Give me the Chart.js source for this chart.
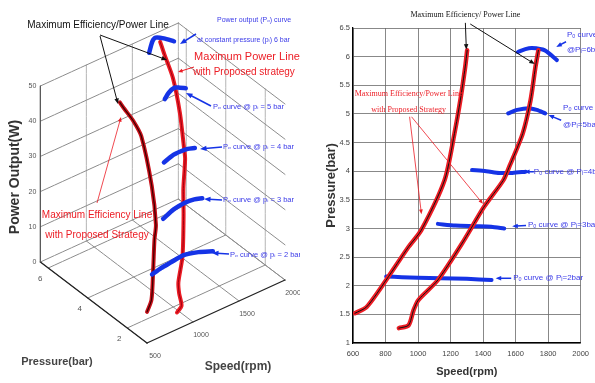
<!DOCTYPE html>
<html>
<head>
<meta charset="utf-8">
<script src="https://cdn.jsdelivr.net/npm/chart.js@4.4.1/dist/chart.umd.min.js"></script>
<style>
  html, body { margin: 0; padding: 0; background: #fff; }
  #wrap { position: relative; width: 595px; height: 383px; }
  #left-box { position: absolute; left: 0; top: 0; width: 300px; height: 383px; }
  #right-box { position: absolute; left: 300px; top: 0; width: 295px; height: 383px; }
</style>
</head>
<body>
<div id="wrap">
  <div id="left-box"><canvas id="left"></canvas></div>
  <div id="right-box"><canvas id="right"></canvas></div>
</div>
<script>
// ---- data (speed rpm, pressure bar, power W) ----
const speedTicks = [600, 800, 1000, 1200, 1400, 1600, 1800, 2000];
const pressureTicks = [1, 1.5, 2, 2.5, 3, 3.5, 4, 4.5, 5, 5.5, 6, 6.5];
const speedTicks3d = [500, 1000, 1500, 2000];
const pressureTicks3d = [2, 4, 6];
const powerTicks3d = [0, 10, 20, 30, 40, 50];

// maximum efficiency line
const effSpeed = [612, 684, 804, 942, 1020, 1164, 1224, 1260, 1290, 1302];
const effPressure = [1.52, 1.63, 2.1, 2.68, 2.97, 3.85, 4.66, 5.24, 5.82, 6.11];
const effPower = [5.3, 7.4, 13, 17, 19, 24.5, 34.5, 36, 36.5, 37];

// maximum power line
const mpSpeed = [882, 942, 972, 1002, 1122, 1284, 1404, 1524, 1560, 1644, 1692, 1722, 1740];
const mpPressure = [1.26, 1.31, 1.57, 1.75, 2.1, 2.8, 3.37, 3.84, 4.07, 4.66, 5.24, 5.82, 6.11];
const mpPower = [3, 4, 6, 8, 12.5, 19, 23, 28, 30, 36, 43, 47, 49];

// power output curves at constant pressure
const po2Speed = [804, 900, 1000, 1140, 1300, 1452];
const po2Pressure = [2.16, 2.15, 2.14, 2.13, 2.12, 2.1];
const po2Power = [10.9, 11.6, 12, 12.5, 11.5, 10];

const po3Speed = [1122, 1230, 1350, 1450, 1530];
const po3Pressure = [3.08, 3.05, 3.04, 3.03, 3.0];
const po3Power = [19, 20.5, 21, 20.8, 20.3];

const po4Speed = [1332, 1420, 1500, 1580, 1662];
const po4Pressure = [4.02, 4.0, 3.97, 3.97, 3.99];
const po4Power = [28.5, 29.5, 29.8, 29.6, 28.8];

const po5Speed = [1554, 1610, 1680, 1730, 1782];
const po5Pressure = [5.01, 5.07, 5.1, 5.07, 5.01];
const po5Power = [39.6, 40.5, 41, 40.5, 40];

const po6Speed = [1614, 1660, 1700, 1780, 1854];
const po6Pressure = [6.08, 6.13, 6.15, 6.11, 5.94];
const po6Power = [47.5, 50, 50.5, 49.5, 48.5];

// ---- styling ----
const RED = '#ec1c24';
const BLUE = '#1533e6';
const BLUE_TXT = '#3a3ae8';
const NARROW = '"Liberation Sans Narrow", "Liberation Sans", "DejaVu Sans"';
const SERIF = '"Liberation Serif", "DejaVu Serif"';

Chart.defaults.font.family = NARROW;

// 3d view of the left panel
const sMin = 500, sMax = 2000, pMin = 1, pMax = 6.4, wMax = 50;
function proj(s, p, w) {
  return {
    x: 147 + (s - sMin) * 0.092 - (p - pMin) * 19.75,
    y: 343 - (s - sMin) * 0.042 - (p - pMin) * 15 - w * 3.52
  };
}

function line(data, color, width, order) {
  return { data, borderColor: color, backgroundColor: color, borderWidth: width,
    showLine: true, pointRadius: 0, tension: 0.25, order, borderCapStyle: 'round', borderJoinStyle: 'round' };
}

function arrow(ctx, x1, y1, x2, y2, color, width, head) {
  const a = Math.atan2(y2 - y1, x2 - x1);
  ctx.strokeStyle = color; ctx.fillStyle = color; ctx.lineWidth = width;
  ctx.beginPath();
  ctx.moveTo(x1, y1);
  ctx.lineTo(x2 - Math.cos(a) * head * 0.7, y2 - Math.sin(a) * head * 0.7);
  ctx.stroke();
  ctx.beginPath();
  ctx.moveTo(x2, y2);
  ctx.lineTo(x2 - head * Math.cos(a - 0.38), y2 - head * Math.sin(a - 0.38));
  ctx.lineTo(x2 - head * Math.cos(a + 0.38), y2 - head * Math.sin(a + 0.38));
  ctx.closePath();
  ctx.fill();
}

function makeNotes(spec) {
  return {
    id: 'notes',
    afterDatasetsDraw(chart) {
      const { ctx, scales: { x, y } } = chart;
      const X = v => x.getPixelForValue(v), Y = v => y.getPixelForValue(v);
      ctx.save();
      for (const a of spec.arrows) {
        arrow(ctx, X(a.from[0]), Y(a.from[1]), X(a.to[0]), Y(a.to[1]), a.color, a.width || 1, a.head || 6);
      }
      for (const t of spec.texts) {
        ctx.save();
        ctx.font = t.font;
        ctx.fillStyle = t.color;
        ctx.textAlign = t.align || 'left';
        ctx.textBaseline = 'middle';
        ctx.translate(X(t.at[0]), Y(t.at[1]));
        if (t.rot) ctx.rotate(t.rot);
        ctx.fillText(t.text, 0, 0);
        ctx.restore();
      }
      ctx.restore();
    }
  };
}

// ---- left panel (3d view) ----
const leftSets = [];
const GRID = '#8c8c8c';
for (const w of powerTicks3d) {
  leftSets.push(line([proj(sMin, pMax, w), proj(sMax, pMax, w)], GRID, 1, 20));
  leftSets.push(line([proj(sMax, pMax, w), proj(sMax, pMin, w)], GRID, 1, 20));
}
for (const s of speedTicks3d) {
  leftSets.push(line([proj(s, pMax, 0), proj(s, pMax, wMax)], '#b4b4b4', 1, 20));
  leftSets.push(line([proj(s, pMin, 0), proj(s, pMax, 0)], GRID, 1, 20));
}
for (const p of pressureTicks3d) {
  leftSets.push(line([proj(sMax, p, 0), proj(sMax, p, wMax)], '#b4b4b4', 1, 20));
  leftSets.push(line([proj(sMin, p, 0), proj(sMax, p, 0)], GRID, 1, 20));
}
// axis lines
leftSets.push(line([proj(sMin, pMax, 0), proj(sMin, pMax, wMax)], '#555', 1.2, 15));
leftSets.push(line([proj(sMin, pMin, 0), proj(sMin, pMax, 0)], '#222', 1.3, 15));
leftSets.push(line([proj(sMin, pMin, 0), proj(sMax, pMin, 0)], '#222', 1.3, 15));

const line3d = (ss, ps, ws) => ss.map((s, i) => proj(s, ps[i], ws[i]));
leftSets.push(line(line3d(effSpeed, effPressure, effPower), '#c8101a', 4, 6));
leftSets.push(line(line3d(effSpeed, effPressure, effPower), '#3a0000', 1.2, 5));
leftSets.push(line(line3d(mpSpeed, mpPressure, mpPower), RED, 4, 6));
leftSets.push(line(line3d(mpSpeed, mpPressure, mpPower), '#a00010', 1, 5));
for (const c of [[po2Speed, po2Pressure, po2Power], [po3Speed, po3Pressure, po3Power],
                 [po4Speed, po4Pressure, po4Power], [po5Speed, po5Pressure, po5Power],
                 [po6Speed, po6Pressure, po6Power]]) {
  leftSets.push(line(line3d(c[0], c[1], c[2]), BLUE, 4.5, 1));
}

const leftTexts = [];
for (const w of powerTicks3d) {
  const q = proj(sMin, pMax, w);
  leftTexts.push({ at: [q.x - 4, q.y], text: String(w), font: '7px ' + NARROW, color: '#555', align: 'right' });
}
for (const p of pressureTicks3d) {
  const q = proj(sMin, p, 0);
  leftTexts.push({ at: [q.x - 8, q.y + 11], text: String(p), font: '8px ' + NARROW, color: '#555', align: 'center' });
}
for (const s of speedTicks3d) {
  const q = proj(s, pMin, 0);
  leftTexts.push({ at: [q.x + 8, q.y + 13], text: String(s), font: '7px ' + NARROW, color: '#555', align: 'center' });
}
leftTexts.push(
  { at: [15, 177], text: 'Power Output(W)', font: 'bold 14px "Liberation Sans"', color: '#333', align: 'center', rot: -Math.PI / 2 },
  { at: [57, 362], text: 'Pressure(bar)', font: 'bold 11px ' + NARROW, color: '#444', align: 'center' },
  { at: [238, 367], text: 'Speed(rpm)', font: 'bold 12px ' + NARROW, color: '#444', align: 'center' },
  { at: [98, 25], text: 'Maximum Efficiency/Power Line', font: '10px ' + NARROW, color: '#111', align: 'center' },
  { at: [217, 20], text: 'Power output (Pₒ) curve', font: '7px ' + NARROW, color: BLUE_TXT },
  { at: [197, 40], text: 'at constant pressure (pᵢ) 6 bar', font: '7px ' + NARROW, color: BLUE_TXT },
  { at: [247, 57], text: 'Maximum Power Line', font: '11px ' + NARROW, color: RED, align: 'center' },
  { at: [244, 72], text: 'with Proposed strategy', font: '10px ' + NARROW, color: RED, align: 'center' },
  { at: [213, 107], text: 'Pₒ curve @ pᵢ = 5 bar', font: '7.5px ' + NARROW, color: BLUE_TXT },
  { at: [223, 147], text: 'Pₒ curve @ pᵢ = 4 bar', font: '7.5px ' + NARROW, color: BLUE_TXT },
  { at: [223, 200], text: 'Pₒ curve @ pᵢ = 3 bar', font: '7.5px ' + NARROW, color: BLUE_TXT },
  { at: [230, 255], text: 'Pₒ curve @ pᵢ = 2 bar', font: '7.5px ' + NARROW, color: BLUE_TXT },
  { at: [97, 215], text: 'Maximum Efficiency Line', font: '10px ' + NARROW, color: RED, align: 'center' },
  { at: [97, 235], text: 'with Proposed Strategy', font: '10px ' + NARROW, color: RED, align: 'center' }
);
const leftArrows = [
  { from: [100, 36], to: [118, 104], color: '#111', width: 1, head: 6 },
  { from: [100, 35], to: [167, 60], color: '#111', width: 1, head: 6 },
  { from: [196, 34], to: [180, 44], color: BLUE, width: 1.5, head: 7 },
  { from: [194, 67], to: [178, 72], color: RED, width: 1, head: 5 },
  { from: [211, 106], to: [186, 93], color: BLUE, width: 1.5, head: 7 },
  { from: [222, 147], to: [200, 149], color: BLUE, width: 1.5, head: 7 },
  { from: [222, 200], to: [204, 199], color: BLUE, width: 1.5, head: 7 },
  { from: [229, 254], to: [212, 253], color: BLUE, width: 1.5, head: 7 },
  { from: [97, 203], to: [121, 117], color: RED, width: 0.8, head: 5 }
];

new Chart(document.getElementById('left'), {
  type: 'scatter',
  data: { datasets: leftSets },
  options: {
    responsive: true, maintainAspectRatio: false, animation: false, events: [],
    layout: { padding: 0 },
    plugins: { legend: { display: false }, tooltip: { enabled: false } },
    scales: {
      x: { type: 'linear', min: 0, max: 300, display: false },
      y: { type: 'linear', min: 0, max: 383, reverse: true, display: false }
    }
  },
  plugins: [makeNotes({ texts: leftTexts, arrows: leftArrows })]
});

// ---- right panel (speed vs pressure) ----
const xy = (ss, ps) => ss.map((s, i) => ({ x: s, y: ps[i] }));
const rightSets = [
  line(xy(po2Speed, po2Pressure), BLUE, 4, 6),
  line(xy(po3Speed, po3Pressure), BLUE, 4, 6),
  line(xy(po4Speed, po4Pressure), BLUE, 4, 6),
  line(xy(po5Speed, po5Pressure), BLUE, 4, 6),
  line(xy(po6Speed, po6Pressure), BLUE, 4, 6),
  line(xy(effSpeed, effPressure), RED, 4.5, 3),
  line(xy(mpSpeed, mpPressure), RED, 4.5, 3),
  line(xy(effSpeed, effPressure), '#111', 1, 1),
  line(xy(mpSpeed, mpPressure), '#111', 1, 1)
];

const rightTexts = [
  { at: [1291, 6.73], text: 'Maximum Efficiency/ Power Line', font: '8px ' + SERIF, color: '#111', align: 'center' },
  { at: [942, 5.35], text: 'Maximum Efficiency/Power Line', font: '8px ' + SERIF, color: RED, align: 'center' },
  { at: [942, 5.07], text: 'with Proposed Strategy', font: '8px ' + SERIF, color: RED, align: 'center' },
  { at: [1916, 6.38], text: 'Pₒ curve', font: '8px ' + NARROW, color: BLUE_TXT },
  { at: [1916, 6.12], text: '@Pᵢ=6bar', font: '8px ' + NARROW, color: BLUE_TXT },
  { at: [1892, 5.10], text: 'Pₒ curve', font: '8px ' + NARROW, color: BLUE_TXT },
  { at: [1892, 4.81], text: '@Pᵢ=5bar', font: '8px ' + NARROW, color: BLUE_TXT },
  { at: [1712, 3.99], text: 'Pₒ curve @ Pᵢ=4bar', font: '8px ' + NARROW, color: BLUE_TXT },
  { at: [1676, 3.06], text: 'Pₒ curve @ Pᵢ=3bar', font: '8px ' + NARROW, color: BLUE_TXT },
  { at: [1585, 2.135], text: 'Pₒ curve @ Pᵢ=2bar', font: '8px ' + NARROW, color: BLUE_TXT }
];
const rightArrows = [
  { from: [1291, 6.59], to: [1297, 6.12], color: '#111', width: 1, head: 6 },
  { from: [1321, 6.57], to: [1718, 5.87], color: '#111', width: 1, head: 6 },
  { from: [948, 4.95], to: [1021, 3.25], color: RED, width: 0.8, head: 5 },
  { from: [960, 4.95], to: [1399, 3.43], color: RED, width: 0.8, head: 5 },
  { from: [1910, 6.26], to: [1850, 6.17], color: BLUE, width: 1.5, head: 6 },
  { from: [1880, 4.89], to: [1802, 4.98], color: BLUE, width: 1.5, head: 6 },
  { from: [1712, 3.99], to: [1652, 3.99], color: BLUE, width: 1.5, head: 6 },
  { from: [1664, 3.05], to: [1579, 3.04], color: BLUE, width: 1.5, head: 6 },
  { from: [1573, 2.13], to: [1477, 2.13], color: BLUE, width: 1.5, head: 6 }
];

new Chart(document.getElementById('right'), {
  type: 'scatter',
  data: { datasets: rightSets },
  options: {
    responsive: true, maintainAspectRatio: false, animation: false, events: [],
    layout: { padding: { left: 0, right: 9, top: 28, bottom: 0 } },
    plugins: { legend: { display: false }, tooltip: { enabled: false } },
    scales: {
      x: {
        type: 'linear', min: 600, max: 2000,
        afterBuildTicks: s => { s.ticks = speedTicks.map(v => ({ value: v })); },
        afterFit: s => { s.height = 40; },
        ticks: { callback: v => String(v), font: { size: 7.5 }, color: '#444', padding: 6, maxRotation: 0, autoSkip: false },
        grid: { color: '#6a6a6a', lineWidth: 0.8, drawTicks: false },
        border: { color: '#000', width: 1.3 },
        title: { display: true, text: 'Speed(rpm)', font: { size: 11, weight: 'bold' }, color: '#333', padding: { top: 0, bottom: 4 } }
      },
      y: {
        type: 'linear', min: 1, max: 6.5,
        afterBuildTicks: s => { s.ticks = pressureTicks.map(v => ({ value: v })); },
        afterFit: s => { s.width = 53; },
        ticks: { callback: v => String(v), font: { size: 7.5 }, color: '#444', padding: 3, autoSkip: false },
        grid: { color: '#6a6a6a', lineWidth: 0.8, drawTicks: false },
        border: { color: '#000', width: 1.3 },
        title: { display: true, text: 'Pressure(bar)', font: { family: '"Liberation Sans"', size: 13, weight: 'bold' }, color: '#333', padding: { top: 24, bottom: 0 } }
      }
    }
  },
  plugins: [makeNotes({ texts: rightTexts, arrows: rightArrows })]
});
</script>
</body>
</html>
